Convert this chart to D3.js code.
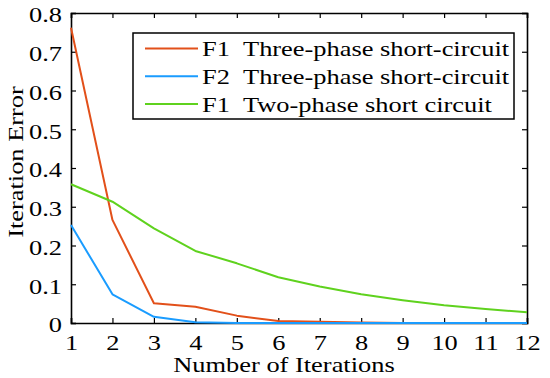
<!DOCTYPE html>
<html>
<head>
<meta charset="utf-8">
<script src="https://cdn.jsdelivr.net/npm/d3@7"></script>
<style>
  html, body { margin: 0; padding: 0; background: #fff; }
  svg { display: block; }
  svg text { font-family: "Liberation Serif", "Times New Roman", serif; fill: #000; }
</style>
</head>
<body>
<div id="chart"></div>
<script>
const iterations = [1, 2, 3, 4, 5, 6, 7, 8, 9, 10, 11, 12]
const f1Three = [0.762, 0.266, 0.051, 0.042, 0.019, 0.005, 0.003, 0.001, 0, 0, 0, 0]
const f2Three = [0.253, 0.074, 0.016, 0.002, 0, 0, 0, 0, 0, 0, 0, 0]
const f1Two = [0.358, 0.313, 0.244, 0.186, 0.154, 0.118, 0.094, 0.074, 0.059, 0.046, 0.036, 0.028]
const yTicks = [0, 0.1, 0.2, 0.3, 0.4, 0.5, 0.6, 0.7, 0.8]
const seriesNames = [
  ["F1", "Three-phase short-circuit"],
  ["F2", "Three-phase short-circuit"],
  ["F1", "Two-phase short circuit"]
]
const seriesColors = ["#e2501a", "#1a9cff", "#5fd21e"]

const width = 550, height = 378
const margin = { left: 71, right: 23, top: 13, bottom: 55 }
const fontSize = 22
const widen = 1.2  // reference glyphs are wider than Liberation Serif

// stretch text along its baseline so widths match the reference
function stretch(sel) {
  sel.each(function() {
    const w = this.getComputedTextLength()
    if (w > 0) {
      d3.select(this)
        .attr("textLength", w * widen)
        .attr("lengthAdjust", "spacingAndGlyphs")
    }
  })
}

const svg = d3.select("#chart").append("svg")
  .attr("width", width)
  .attr("height", height)

const x = d3.scaleLinear().domain([1, 12]).range([margin.left, width - margin.right])
const y = d3.scaleLinear().domain([0, 0.8]).range([height - margin.bottom, margin.top])

const tickLen = 5

// Bottom axis, ticks inward
const xAxis = svg.append("g")
  .attr("transform", `translate(0,${y(0)})`)
  .call(d3.axisBottom(x).tickValues(iterations).tickSize(-tickLen).tickPadding(11).tickFormat(d3.format("d")))
xAxis.attr("font-family", null).attr("font-size", null)
xAxis.selectAll("text").attr("font-size", fontSize).attr("fill", "#000").call(stretch)

const yAxis = svg.append("g")
  .attr("transform", `translate(${x(1)},0)`)
  .call(d3.axisLeft(y).tickValues(yTicks).tickSize(-tickLen).tickPadding(9)
    .tickFormat(d => d === 0 ? "0" : d3.format(".1f")(d)))
yAxis.attr("font-family", null).attr("font-size", null)
yAxis.selectAll("text").attr("font-size", fontSize).attr("fill", "#000").attr("dy", "0.4em").call(stretch)

// Top and right mirrored ticks
svg.append("g")
  .attr("transform", `translate(0,${y(0.8)})`)
  .call(d3.axisTop(x).tickValues(iterations).tickSize(-tickLen).tickFormat(""))
svg.append("g")
  .attr("transform", `translate(${x(12)},0)`)
  .call(d3.axisRight(y).tickValues(yTicks).tickSize(-tickLen).tickFormat(""))

svg.selectAll(".domain").attr("stroke", "#000").attr("stroke-width", 1.6)
svg.selectAll(".tick line").attr("stroke", "#000").attr("stroke-width", 1.2)

// Series
const line = d3.line().x((d, i) => x(iterations[i])).y(d => y(d))
const allSeries = [f1Three, f2Three, f1Two]
allSeries.forEach((vals, i) => {
  svg.append("path")
    .datum(vals)
    .attr("fill", "none")
    .attr("stroke", seriesColors[i])
    .attr("stroke-width", 2)
    .attr("stroke-linejoin", "round")
    .attr("d", line)
})

// Legend
const legend = svg.append("g")
legend.append("rect")
  .attr("x", 133).attr("y", 33)
  .attr("width", 381).attr("height", 86)
  .attr("fill", "#fff")
  .attr("stroke", "#000")
  .attr("stroke-width", 1.5)

seriesNames.forEach((name, i) => {
  const ly = 48.5 + i * 27.7
  legend.append("line")
    .attr("x1", 145).attr("x2", 198)
    .attr("y1", ly).attr("y2", ly)
    .attr("stroke", seriesColors[i])
    .attr("stroke-width", 2)
  legend.append("text")
    .attr("x", 202).attr("y", ly + 7.7)
    .attr("font-size", fontSize)
    .text(name[0])
    .call(stretch)
  legend.append("text")
    .attr("x", 243).attr("y", ly + 7.7)
    .attr("font-size", fontSize)
    .text(name[1])
    .call(stretch)
})

// Axis titles
svg.append("text")
  .attr("x", 284).attr("y", 372)
  .attr("text-anchor", "middle")
  .attr("font-size", fontSize)
  .text("Number of Iterations")
  .call(stretch)

svg.append("text")
  .attr("transform", "translate(23,162) rotate(-90)")
  .attr("text-anchor", "middle")
  .attr("font-size", fontSize)
  .text("Iteration Error")
  .call(stretch)
</script>
</body>
</html>
